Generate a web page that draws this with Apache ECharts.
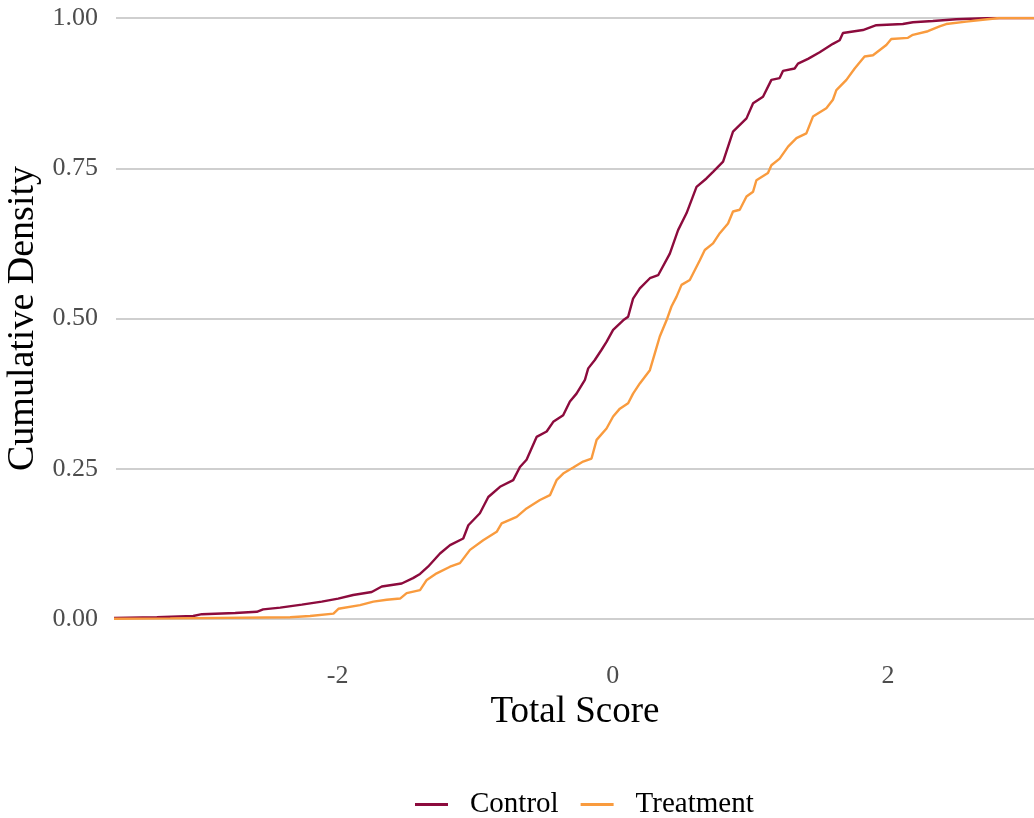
<!DOCTYPE html>
<html>
<head>
<meta charset="utf-8">
<script src="https://cdn.jsdelivr.net/npm/echarts@6/dist/echarts.min.js"></script>
<style>
html,body{margin:0;padding:0;background:#fff;}
#chart{width:1034px;height:818px;}
</style>
</head>
<body>
<div id="chart"></div>
<script>
// ECDF knots: [score, cumulative density]
const controlX = [-4.0,-3.313,-3.049,-2.986,-2.744,-2.587,-2.541,-2.417,-2.260,-2.115,-1.996,-1.887,-1.752,-1.679,-1.534,-1.452,-1.401,-1.343,-1.256,-1.183,-1.087,-1.050,-0.966,-0.905,-0.820,-0.724,-0.675,-0.627,-0.554,-0.481,-0.433,-0.361,-0.312,-0.264,-0.203,-0.179,-0.131,-0.082,-0.046,0.002,0.075,0.111,0.147,0.196,0.269,0.329,0.414,0.474,0.535,0.608,0.680,0.728,0.801,0.837,0.873,0.971,1.019,1.091,1.152,1.212,1.236,1.321,1.345,1.418,1.503,1.599,1.648,1.672,1.817,1.914,2.107,2.180,2.325,2.495,2.761,4.0];
const controlY = [0,0.003,0.005,0.008,0.010,0.012,0.016,0.019,0.024,0.029,0.034,0.040,0.045,0.054,0.059,0.068,0.075,0.087,0.109,0.123,0.134,0.156,0.176,0.203,0.220,0.231,0.253,0.265,0.303,0.312,0.328,0.339,0.362,0.375,0.398,0.417,0.431,0.448,0.461,0.481,0.497,0.503,0.533,0.550,0.567,0.572,0.608,0.647,0.675,0.719,0.733,0.744,0.761,0.786,0.811,0.833,0.858,0.869,0.897,0.900,0.912,0.916,0.924,0.932,0.943,0.957,0.963,0.975,0.980,0.988,0.990,0.993,0.995,0.998,1.0,1.0];
const treatmentX = [-4.0,-3.216,-2.345,-2.200,-2.030,-1.994,-1.837,-1.740,-1.643,-1.546,-1.498,-1.401,-1.352,-1.280,-1.183,-1.111,-1.038,-0.942,-0.844,-0.808,-0.699,-0.627,-0.530,-0.457,-0.409,-0.361,-0.288,-0.216,-0.155,-0.118,-0.046,0.002,0.051,0.111,0.147,0.196,0.269,0.305,0.341,0.390,0.426,0.462,0.499,0.559,0.632,0.668,0.728,0.777,0.837,0.873,0.922,0.971,1.019,1.043,1.127,1.152,1.212,1.273,1.334,1.406,1.454,1.551,1.599,1.624,1.697,1.757,1.829,1.890,1.987,2.023,2.144,2.180,2.289,2.374,2.422,2.568,2.688,2.809,4.0];
const treatmentY = [0,0.001,0.003,0.005,0.009,0.017,0.023,0.029,0.032,0.034,0.043,0.048,0.065,0.076,0.087,0.093,0.115,0.131,0.145,0.159,0.170,0.184,0.198,0.206,0.231,0.242,0.252,0.262,0.267,0.298,0.317,0.337,0.350,0.359,0.375,0.392,0.414,0.442,0.470,0.497,0.520,0.536,0.556,0.564,0.597,0.614,0.625,0.642,0.658,0.678,0.681,0.703,0.711,0.730,0.742,0.755,0.766,0.786,0.800,0.808,0.836,0.850,0.864,0.880,0.897,0.916,0.936,0.938,0.955,0.965,0.967,0.972,0.978,0.986,0.990,0.994,0.997,1.0,1.0];
const seriesNames = ['Control', 'Treatment'];
const xTickValues = [-2, 0, 2];

const zip = (xs, ys) => xs.map((x, i) => [x, ys[i]]);
const FONT = '"Liberation Serif", "DejaVu Serif", serif';

const chart = echarts.init(document.getElementById('chart'), null, {renderer: 'canvas'});
chart.setOption({
  animation: false,
  backgroundColor: '#ffffff',
  grid: {left: 116, right: 0, top: 18, bottom: 199, containLabel: false, outerBoundsMode: 'none'},
  xAxis: {
    type: 'value', min: -3.61, max: 3.06,
    name: 'Total Score', nameLocation: 'middle', nameGap: 72,
    nameTextStyle: {fontFamily: FONT, fontSize: 37, color: '#000'},
    axisLine: {show: false}, axisTick: {show: false}, splitLine: {show: false},
    axisLabel: {customValues: xTickValues, fontFamily: FONT, fontSize: 26, color: '#4d4d4d', margin: 44,
      formatter: v => String(v)}
  },
  yAxis: {
    type: 'value', min: 0, max: 1, interval: 0.25,
    name: 'Cumulative Density', nameLocation: 'middle', nameGap: 71, nameRotate: 90,
    nameTextStyle: {fontFamily: FONT, fontSize: 38, color: '#000'},
    axisLine: {show: false}, axisTick: {show: false},
    splitLine: {show: true, lineStyle: {color: '#cfcfcf', width: 2.2}},
    axisLabel: {fontFamily: FONT, fontSize: 26, color: '#4d4d4d', margin: 18,
      formatter: v => v.toFixed(2)}
  },
  legend: {
    top: 785, left: 410, icon: 'rect', itemWidth: 33, itemHeight: 3, itemGap: 22,
    data: seriesNames,
    textStyle: {fontFamily: FONT, fontSize: 29, color: '#000', padding: [0, 0, 0, 17]}
  },
  series: [
    {name: seriesNames[0], type: 'line', showSymbol: false, data: zip(controlX, controlY),
     lineStyle: {color: '#8c0b3d', width: 2.4}, itemStyle: {color: '#8c0b3d'}},
    {name: seriesNames[1], type: 'line', showSymbol: false, data: zip(treatmentX, treatmentY),
     lineStyle: {color: '#f99b3e', width: 2.4}, itemStyle: {color: '#f99b3e'}}
  ]
});
</script>
</body>
</html>
